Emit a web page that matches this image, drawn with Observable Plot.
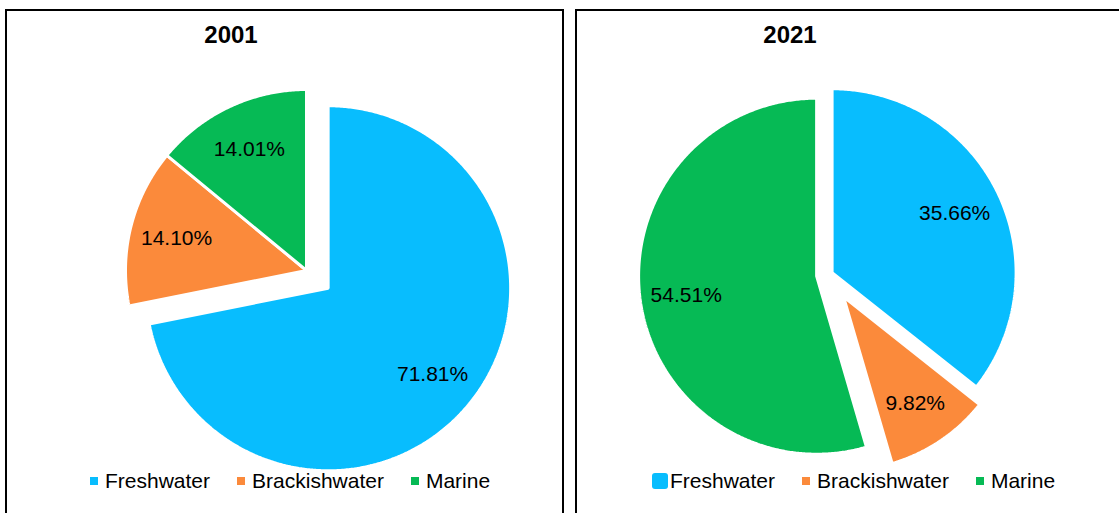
<!DOCTYPE html>
<html>
<head>
<meta charset="utf-8">
<script src="https://cdn.jsdelivr.net/npm/d3@7"></script>
<script src="https://cdn.jsdelivr.net/npm/@observablehq/plot@0.6"></script>
<style>
  body { margin: 0; background: #fff; font-family: "Liberation Sans", Arial, sans-serif; }
  #page { position: relative; width: 1119px; height: 513px; overflow: hidden; background: #fff; }
  .panel { position: absolute; top: 9px; height: 530px; border: 2px solid #000; border-bottom: none; box-sizing: border-box; }
  .chart { position: absolute; }
  .title { position: absolute; font-weight: bold; font-size: 24px; line-height: 24px; color: #000; transform: translateX(-50%); white-space: nowrap; }
  .legend { position: absolute; display: flex; align-items: center; font-size: 21px; line-height: 21px; color: #000; white-space: nowrap; }
  .legend .sw { display: inline-block; width: 8px; height: 8px; margin-right: 7px; }
  .legend .sw.big { width: 16px; height: 16px; border-radius: 3px; margin-right: 2px; }
  .legend .item { display: flex; align-items: center; margin-right: 27px; }
</style>
</head>
<body>
<div id="page"></div>
<script>
// ---- data ----
const categories = ["Freshwater", "Brackishwater", "Marine"];
const years = ["2001", "2021"];
const share2001 = [71.81, 14.10, 14.01];
const share2021 = [35.66, 9.82, 54.51];
const colors = ["#08BDFE", "#FB8A3B", "#06BA55"];

// ---- layout (page pixels) ----
const panels = [
  { year: years[0], values: share2001, left: 5, width: 559, center: [306, 270], r: 182,
    radius: [182.5, 181, 181], explode: [28, 0, 0], titleX: 231, legendX: 90, bigFirst: false },
  { year: years[1], values: share2021, left: 575, width: 600, center: [828, 274], r: 182,
    radius: [184, 173.5, 178], explode: [4, 27, 12], titleX: 790, legendX: 652, bigFirst: true }
];

const page = document.getElementById("page");

function build(values, cfg) {
  const total = d3.sum(values);
  let a = 0;
  const pts = [], labels = [];
  values.forEach((v, i) => {
    const a0 = a, a1 = a + v / total * 2 * Math.PI;
    a = a1;
    const mid = (a0 + a1) / 2;
    const e = cfg.explode[i] / cfg.r;
    const rr = cfg.radius[i] / cfg.r;
    const ox = e * Math.sin(mid), oy = -e * Math.cos(mid);
    pts.push({ cat: categories[i], x: ox, y: oy });
    const n = Math.max(4, Math.ceil((a1 - a0) / (Math.PI / 360)));
    for (let k = 0; k <= n; k++) {
      const t = a0 + (a1 - a0) * k / n;
      pts.push({ cat: categories[i], x: ox + rr * Math.sin(t), y: oy - rr * Math.cos(t) });
    }
    labels.push({ cat: categories[i], text: v.toFixed(2) + "%",
      x: ox + 0.74 * rr * Math.sin(mid), y: oy - 0.74 * rr * Math.cos(mid) });
  });
  return { pts, labels };
}

panels.forEach(cfg => {
  const box = document.createElement("div");
  box.className = "panel";
  box.style.left = cfg.left + "px";
  box.style.width = cfg.width + "px";
  page.appendChild(box);

  const sx = cfg.left + 2, sy = 11, W = cfg.width - 4, H = 502;
  const [cx, cy] = cfg.center;
  const { pts, labels } = build(cfg.values, cfg);
  const chart = Plot.plot({
    width: W, height: H, margin: 0,
    style: { fontFamily: "Liberation Sans, Arial, sans-serif", background: "transparent" },
    x: { domain: [(sx - cx) / cfg.r, (sx + W - cx) / cfg.r], range: [0, W], axis: null },
    y: { domain: [(sy - cy) / cfg.r, (sy + H - cy) / cfg.r], range: [0, H], axis: null },
    color: { domain: categories, range: colors },
    marks: [
      Plot.line(pts, { x: "x", y: "y", z: "cat", fill: "cat", stroke: "white", strokeWidth: 3, strokeLinejoin: "miter", curve: "linear-closed" }),
      Plot.text(labels, { x: "x", y: "y", text: "text", fontSize: 21, fill: "#000", textAnchor: "middle", lineAnchor: "middle" })
    ]
  });
  chart.classList.add("chart");
  chart.style.left = sx + "px";
  chart.style.top = sy + "px";
  page.appendChild(chart);

  const title = document.createElement("div");
  title.className = "title";
  title.textContent = cfg.year;
  title.style.left = cfg.titleX + "px";
  title.style.top = "23px";
  page.appendChild(title);

  const legend = document.createElement("div");
  legend.className = "legend";
  legend.style.left = cfg.legendX + "px";
  legend.style.top = "470px";
  categories.forEach((c, i) => {
    const item = document.createElement("span");
    item.className = "item";
    const sw = document.createElement("span");
    sw.className = "sw" + (cfg.bigFirst && i === 0 ? " big" : "");
    sw.style.background = colors[i];
    const tx = document.createElement("span");
    tx.textContent = c;
    item.appendChild(sw); item.appendChild(tx);
    legend.appendChild(item);
  });
  page.appendChild(legend);
});
</script>
</body>
</html>
